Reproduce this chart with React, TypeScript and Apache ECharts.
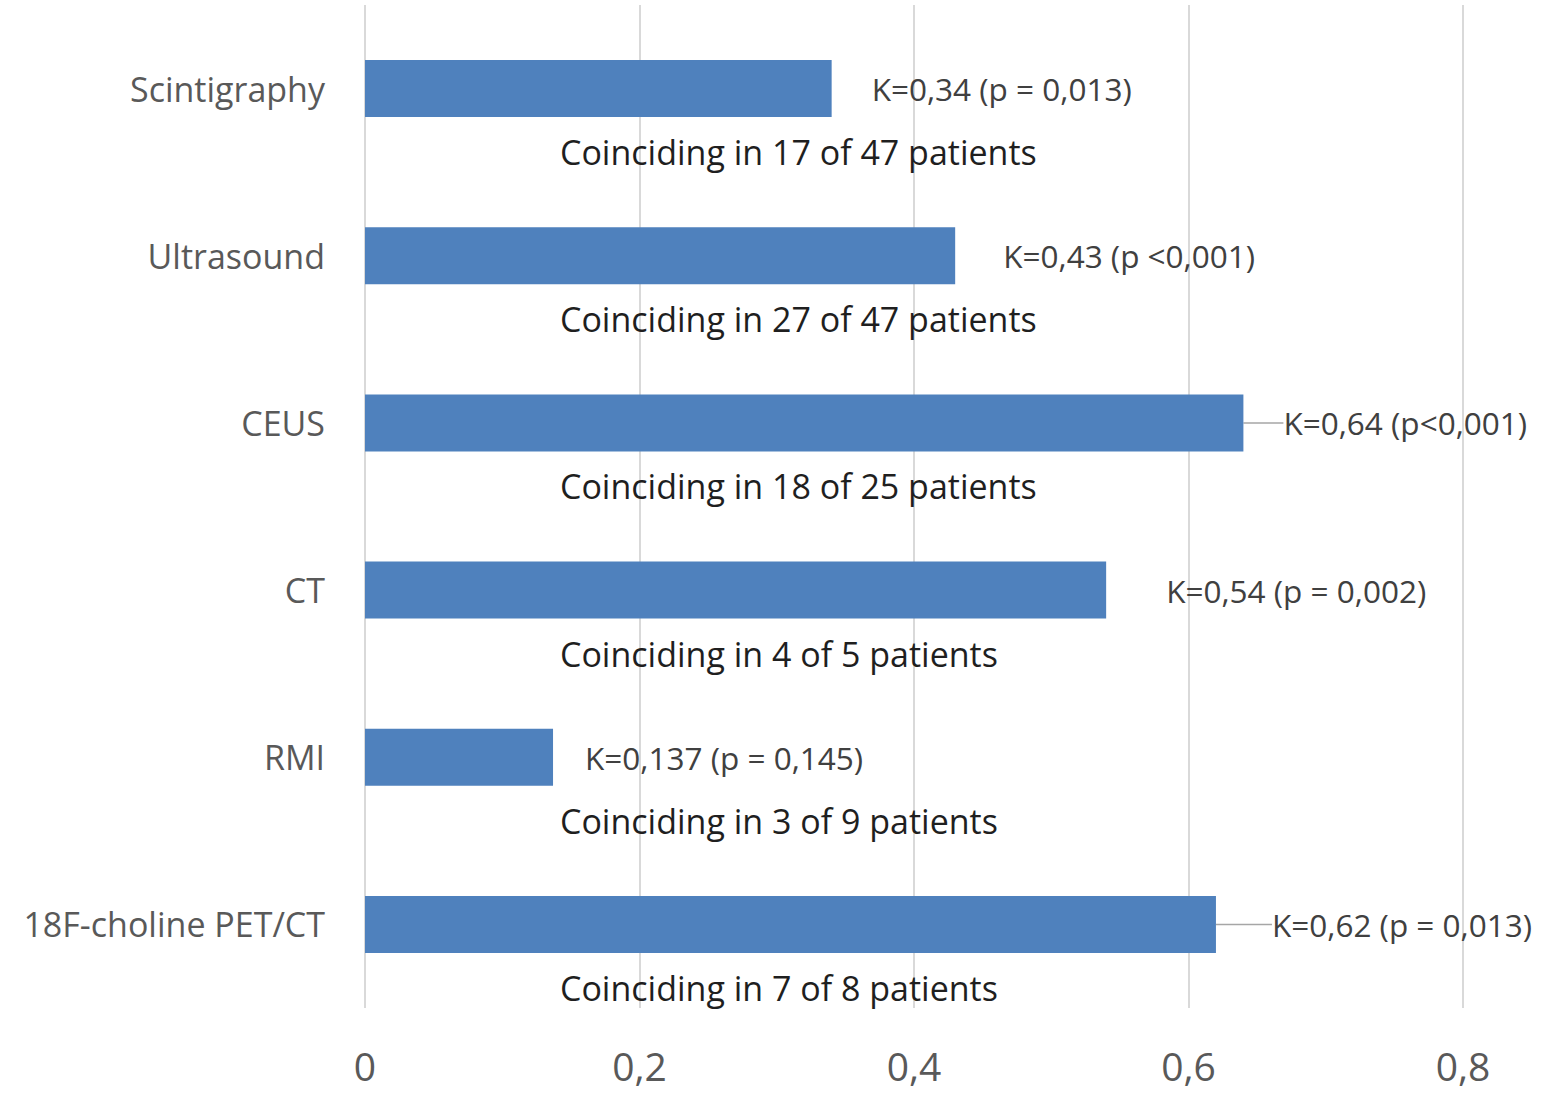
import React, { useEffect, useRef } from "react";
import * as echarts from "echarts";

const categories = ["Scintigraphy", "Ultrasound", "CEUS", "CT", "RMI", "18F-choline PET/CT"];
const kappaValues = [0.34, 0.43, 0.64, 0.54, 0.137, 0.62];
const pValues = ["p = 0,013", "p <0,001", "p<0,001", "p = 0,002", "p = 0,145", "p = 0,013"];
const coinciding = [17, 27, 18, 4, 3, 7];
const totals = [47, 47, 25, 5, 9, 8];
const xTicks = { min: 0, max: 0.8, interval: 0.2 };

// label layout (styling, not data)
const leaderLines = [false, false, true, false, false, true];
const kLabelShift = [36, 44, 36, 56, 28, 52];

const FONT = "'Open Sans', 'DejaVu Sans', sans-serif";
const fmt = (v: number) => String(v).replace(".", ",");

export default function App() {
  const ref = useRef<HTMLDivElement>(null);
  useEffect(() => {
    if (!ref.current) return;
    const chart = echarts.init(ref.current, undefined, { renderer: "svg" });
    chart.setOption({
      animation: false,
      backgroundColor: "#ffffff",
      grid: { left: 365, right: 89, top: 5, bottom: 96, containLabel: false },
      xAxis: {
        type: "value",
        min: xTicks.min,
        max: xTicks.max,
        interval: xTicks.interval,
        axisLine: { show: false },
        axisTick: { show: false },
        splitLine: { show: true, lineStyle: { color: "#d9d9d9", width: 2 } },
        axisLabel: {
          formatter: (v: number) => fmt(v),
          color: "#595959",
          fontFamily: FONT,
          fontSize: 39,
          margin: 38,
        },
      },
      yAxis: {
        type: "category",
        inverse: true,
        data: categories,
        axisLine: { show: false },
        axisTick: { show: false },
        axisLabel: {
          color: "#595959",
          fontFamily: FONT,
          fontSize: 34,
          margin: 40,
        },
      },
      series: [
        {
          type: "bar",
          barWidth: 57,
          itemStyle: { color: "#4f81bd" },
          data: kappaValues.map((v, i) => ({
            value: v,
            labelLine: { show: leaderLines[i], lineStyle: { color: "#a6a6a6", width: 1.5 } },
          })),
          label: {
            show: true,
            position: "right",
            distance: 4,
            color: "#404040",
            fontFamily: FONT,
            fontSize: 31.5,
            formatter: (p: any) => `K=${fmt(kappaValues[p.dataIndex])} (${pValues[p.dataIndex]})`,
          },
          labelLayout: (p: any) => ({ dx: kLabelShift[p.dataIndex] }),
          labelLine: { show: false },
        },
        {
          type: "bar",
          barWidth: 57,
          barGap: "-100%",
          silent: true,
          itemStyle: { color: "rgba(0,0,0,0)" },
          data: kappaValues,
          label: {
            show: true,
            position: [195, 92],
            verticalAlign: "middle",
            align: "left",
            color: "#1f1f1f",
            fontFamily: FONT,
            fontSize: 34,
            formatter: (p: any) =>
              `Coinciding in ${coinciding[p.dataIndex]} of ${totals[p.dataIndex]} patients`,
          },
        },
      ],
    });
    return () => chart.dispose();
  }, []);
  return (
    <div
      ref={ref}
      style={{ position: "fixed", left: 0, top: 0, width: 1552, height: 1104 }}
    />
  );
}
